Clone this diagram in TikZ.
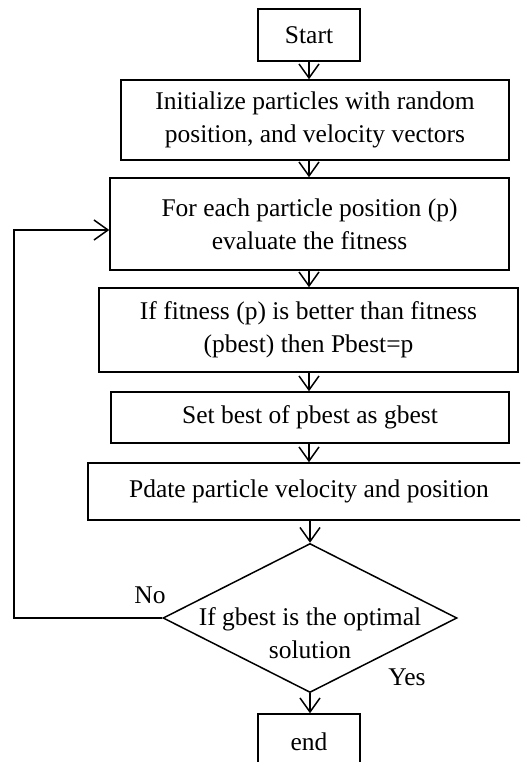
\documentclass[tikz,border=0pt]{standalone}
\usepackage{fontspec}
\setmainfont{Liberation Serif}
\usetikzlibrary{arrows.meta,shapes.geometric}

\tikzset{
  every picture/.style={x=1pt,y=-1pt},
  txt/.style={font=\fontsize{25.5}{33}\selectfont, align=center},
  box/.style={draw, line width=1.5pt, inner sep=0pt, txt},
  decision/.style={draw, diamond, line width=1.5pt, inner sep=0pt},
  flow/.style={line width=1.5pt, -{Straight Barb[length=14pt,width=20pt,line width=1.5pt]}},
}

\begin{document}
\begin{tikzpicture}
  \clip (0,0) rectangle (520,762);

  % process chain
  \node[box, minimum width=102pt, minimum height=52pt] (start) at (309,35) {Start};
  \node[box, minimum width=388pt, minimum height=80pt] (init) at (315,120)
    {Initialize particles with random\\position, and velocity vectors};
  \node[box, minimum width=399pt, minimum height=92pt] (eval) at (309.5,224)
    {For each particle position (p)\\evaluate the fitness};
  \node[box, minimum width=419pt, minimum height=84pt] (pbest) at (308.5,330)
    {If fitness (p) is better than fitness\\(pbest) then Pbest=p};
  \node[box, minimum width=398pt, minimum height=51pt] (gbest) at (310,417.5)
    {Set best of pbest as gbest};
  \node[box, minimum width=442pt, minimum height=57pt] (update) at (309,491.5)
    {Pdate particle velocity and position};

  % termination test
  \node[decision, minimum width=294pt, minimum height=149pt] (test) at (310,618) {};
  \node[txt] (testtxt) at (310,633) {If gbest is the optimal\\solution};

  \node[box, minimum width=102pt, minimum height=56pt] (stop) at (309,742) {end};

  % connectors
  \draw[flow] (start.south) -- (start.south |- init.north);
  \draw[flow] (init.south -| 309,0) -- (eval.north -| 309,0);
  \draw[flow] (eval.south -| 309,0) -- (pbest.north -| 309,0);
  \draw[flow] (pbest.south -| 309,0) -- (gbest.north -| 309,0);
  \draw[flow] (gbest.south -| 309,0) -- (update.north -| 309,0);
  \draw[flow] (update.south -| 310,0) -- (test.north);
  \draw[flow] (test.south) -- (test.south |- stop.north);

  % loop back when not optimal
  \coordinate (loopx) at (14,0);
  \draw[flow] (test.west) -- (test.west -| loopx) |- ([yshift=-6pt]eval.west);

  \node[txt] (no) at (150,595) {No};
  \node[txt] (yes) at (407,677) {Yes};
\end{tikzpicture}
\end{document}
